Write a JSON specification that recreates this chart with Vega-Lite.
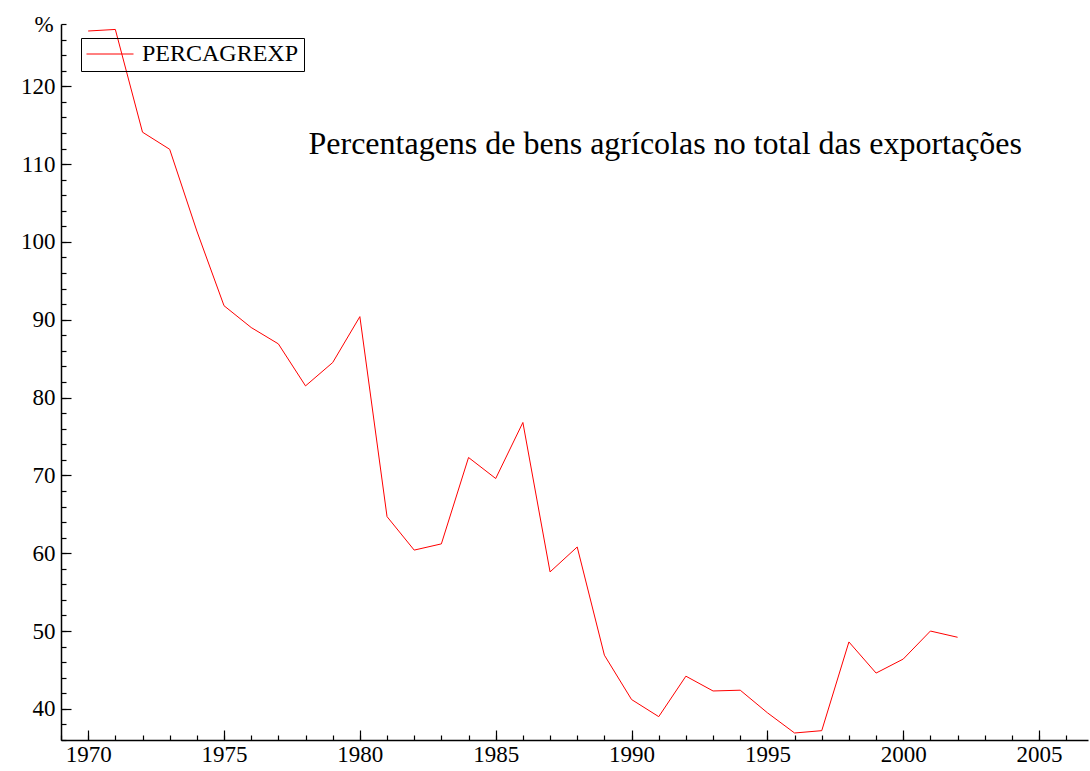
{
  "$schema": "https://vega.github.io/schema/vega-lite/v6.json",
  "width": 1027,
  "height": 716,
  "autosize": "none",
  "padding": {"left": 61, "top": 24, "right": 2, "bottom": 31},
  "background": "white",
  "config": {
    "view": {"stroke": null},
    "font": "Liberation Serif",
    "axis": {
      "labelFont": "Liberation Serif",
      "labelFontSize": 23,
      "labelColor": "black",
      "domainColor": "black",
      "tickColor": "black",
      "grid": false,
      "domainWidth": 1.5,
      "tickWidth": 1.2
    }
  },
  "datasets": {
    "series": [
      {"year": 1970, "value": 127.1},
      {"year": 1971, "value": 127.3},
      {"year": 1972, "value": 114.1},
      {"year": 1973, "value": 111.9},
      {"year": 1974, "value": 101.4},
      {"year": 1975, "value": 91.8},
      {"year": 1976, "value": 89.0},
      {"year": 1977, "value": 86.9},
      {"year": 1978, "value": 81.5},
      {"year": 1979, "value": 84.5},
      {"year": 1980, "value": 90.4},
      {"year": 1981, "value": 64.7},
      {"year": 1982, "value": 60.4},
      {"year": 1983, "value": 61.2},
      {"year": 1984, "value": 72.3},
      {"year": 1985, "value": 69.6},
      {"year": 1986, "value": 76.8},
      {"year": 1987, "value": 57.6},
      {"year": 1988, "value": 60.8},
      {"year": 1989, "value": 46.9},
      {"year": 1990, "value": 41.2},
      {"year": 1991, "value": 39.0},
      {"year": 1992, "value": 44.2},
      {"year": 1993, "value": 42.3},
      {"year": 1994, "value": 42.4},
      {"year": 1995, "value": 39.5},
      {"year": 1996, "value": 36.9},
      {"year": 1997, "value": 37.2},
      {"year": 1998, "value": 48.6},
      {"year": 1999, "value": 44.6},
      {"year": 2000, "value": 46.4},
      {"year": 2001, "value": 50.0},
      {"year": 2002, "value": 49.2}
    ],
    "titleText": [
      {"year": 1991.24, "value": 112.6, "label": "Percentagens de bens agrícolas no total das exportações"}
    ]
  },
  "layer": [
    {
      "data": {"name": "series"},
      "mark": {"type": "line", "strokeWidth": 1, "clip": true},
      "encoding": {
        "x": {
          "field": "year", "type": "quantitative",
          "scale": {"domain": [1969, 2006.8], "nice": false, "zero": false},
          "axis": {
            "orient": "bottom", "title": null,
            "values": [1970, 1975, 1980, 1985, 1990, 1995, 2000, 2005],
            "format": "d", "tickSize": -10, "labelPadding": 13, "labelFlush": false, "labelOverlap": false
          }
        },
        "y": {
          "field": "value", "type": "quantitative",
          "scale": {"domain": [36, 128], "nice": false, "zero": false},
          "axis": {
            "orient": "left",
            "title": "%", "titleAngle": 0, "titleFont": "Liberation Serif", "titleFontSize": 23,
            "titleFontWeight": "normal", "titleColor": "black",
            "titleX": -17.5, "titleY": 7, "titleAlign": "center", "titleBaseline": "alphabetic",
            "values": [40, 50, 60, 70, 80, 90, 100, 110, 120],
            "tickSize": -10, "labelPadding": 16, "labelFlush": false, "labelOverlap": false
          }
        },
        "color": {
          "datum": "PERCAGREXP", "type": "nominal",
          "scale": {"range": ["#ff0000"]},
          "legend": {
            "title": null, "orient": "none", "legendX": 20, "legendY": 14,
            "strokeColor": "black", "padding": 5, "clipHeight": 22,
            "symbolType": "stroke", "symbolSize": 2209, "symbolStrokeWidth": 1,
            "labelFont": "Liberation Serif", "labelFontSize": 24, "labelColor": "black",
            "labelOffset": 8, "cornerRadius": 0
          }
        }
      }
    },
    {
      "data": {"name": "series"},
      "mark": {"type": "line", "opacity": 0},
      "encoding": {
        "x": {
          "field": "year", "type": "quantitative",
          "scale": {"domain": [1969, 2006.8], "nice": false, "zero": false},
          "axis": {
            "orient": "bottom", "title": null, "labels": false, "domain": false,
            "values": [1969,1970,1971,1972,1973,1974,1975,1976,1977,1978,1979,1980,1981,1982,1983,1984,1985,1986,1987,1988,1989,1990,1991,1992,1993,1994,1995,1996,1997,1998,1999,2000,2001,2002,2003,2004,2005,2006],
            "tickSize": -5
          }
        },
        "y": {
          "field": "value", "type": "quantitative",
          "scale": {"domain": [36, 128], "nice": false, "zero": false},
          "axis": {
            "orient": "left", "title": null, "labels": false, "domain": false,
            "values": [36,38,40,42,44,46,48,50,52,54,56,58,60,62,64,66,68,70,72,74,76,78,80,82,84,86,88,90,92,94,96,98,100,102,104,106,108,110,112,114,116,118,120,122,124,126,128],
            "tickSize": -5
          }
        }
      }
    },
    {
      "data": {"name": "titleText"},
      "mark": {"type": "text", "font": "Liberation Serif", "fontSize": 32, "color": "black", "align": "center", "baseline": "middle"},
      "encoding": {
        "x": {"field": "year", "type": "quantitative", "scale": {"domain": [1969, 2006.8], "nice": false, "zero": false}, "axis": null},
        "y": {"field": "value", "type": "quantitative", "scale": {"domain": [36, 128], "nice": false, "zero": false}, "axis": null},
        "text": {"field": "label"}
      }
    }
  ],
  "resolve": {"axis": {"x": "independent", "y": "independent"}}
}
